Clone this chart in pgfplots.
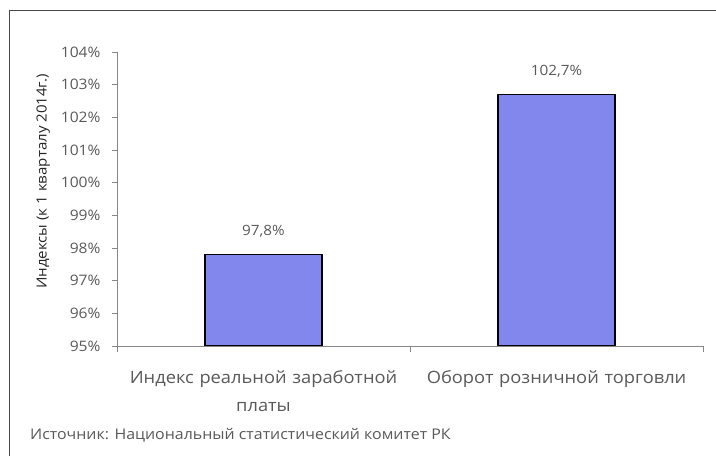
\documentclass[border=0pt]{standalone}
\usepackage{pgfplots}
\pgfplotsset{compat=1.18}
\usepackage{fontspec}
\setmainfont[FakeStretch=1.08]{Open Sans}
\definecolor{txt}{RGB}{89,89,89}
\definecolor{barfill}{RGB}{130,135,238}
\definecolor{axgray}{RGB}{134,134,134}
\definecolor{framec}{RGB}{70,70,70}
\begin{document}
\begin{tikzpicture}[x=1bp,y=1bp]
\useasboundingbox (0,0) rectangle (716,456);
\draw[framec, line width=1.3bp] (9.5,-5) -- (9.5,445.5) -- (730,445.5);
\begin{axis}[
  at={(117bp,110bp)}, anchor=south west,
  scale only axis, width=586bp, height=294bp,
  xmin=-0.5, xmax=1.5, ymin=95, ymax=104,
  axis x line=bottom, axis y line=left,
  axis line style={axgray, line width=0.8bp, -},
  tick align=outside,
  ytick={95,96,...,104},
  yticklabel={\pgfmathprintnumber{\tick}\%},
  major tick length=5bp,
  ytick style={axgray, line width=0.8bp},
  yticklabel style={font=\fontsize{14.5}{16}\selectfont, text=txt, xshift=-8bp},
  /pgf/number format/assume math mode=true,
  xtick={0,1},
  xticklabels={{Индекс реальной заработной\\платы}, {Оборот розничной торговли}},
  major x tick style={draw=none},
  minor xtick={-0.5,0.5,1.5},
  minor x tick style={axgray, line width=0.8bp},
  minor tick length=6bp,
  xticklabel style={font=\fontsize{17}{28}\selectfont, text=txt, align=center, text width=293bp, anchor=north, yshift=-16bp},
  ylabel={Индексы (к 1 кварталу 2014г.)},
  ylabel style={font=\fontsize{14}{16}\selectfont, text=black!85, at={(axis description cs:-0.126,0.56)}, anchor=center},
  ybar, bar width=0.4,
  nodes near coords={\pgfmathprintnumber[fixed,precision=1,fixed zerofill,use comma]{\pgfplotspointmeta}\%},
  nodes near coords style={font=\fontsize{14.2}{16}\selectfont, text=txt, anchor=south, inner sep=0pt, yshift=16bp},
]
\addplot[fill=barfill, draw=black, line width=1.5bp] coordinates {(0,97.8) (1,102.7)};
\end{axis}
\node[anchor=base west, text=txt, font=\fontsize{14.8}{16}\selectfont, inner sep=0pt] at (30,16) {Источник: Национальный статистический комитет РК};
\end{tikzpicture}
\end{document}
